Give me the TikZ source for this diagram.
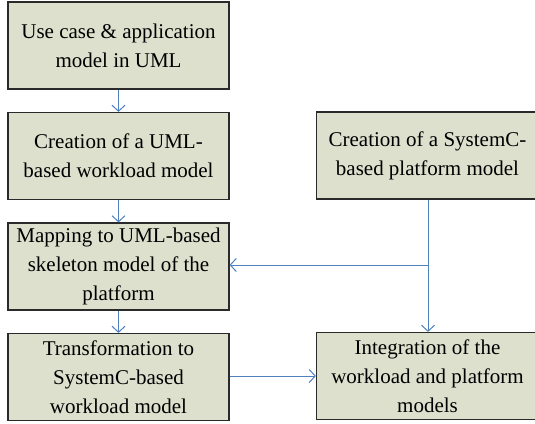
\documentclass[tikz,border=0pt]{standalone}
\usepackage{fontspec}
\setmainfont{Liberation Serif}
\usetikzlibrary{arrows.meta}
\definecolor{boxfill}{HTML}{DDE0CD}
\definecolor{boxline}{HTML}{2A2A2A}
\definecolor{flow}{HTML}{4F81BD}
\tikzset{
  stepbox/.style={draw=boxline, line width=1.2bp, fill=boxfill, align=center,
    inner sep=0pt, font=\fontsize{21bp}{29bp}\selectfont},
  leftbox/.style={stepbox, minimum width=221bp, minimum height=87bp},
  rightbox/.style={stepbox, minimum width=222bp, minimum height=87bp},
  flowline/.style={draw=flow, line width=1bp, -{Straight Barb[length=6bp,width=13bp,line width=1bp]}},
}
\begin{document}
\begin{tikzpicture}[x=1bp,y=-1bp]
  \useasboundingbox (0,0) rectangle (535,423);
  \node[leftbox] (uc) at (118.5,45.5) {Use case \& application\\model in UML};
  \node[leftbox] (wl) at (118.5,156) {Creation of a UML-\\based workload model};
  \node[leftbox] (map) at (118.5,266.5) {Mapping to UML-based\\skeleton model of the\\platform};
  \node[leftbox] (tr) at (118.5,377) {Transformation to\\SystemC-based\\workload model};
  \node[rightbox] (pf) at (427.5,155.5) {Creation of a SystemC-\\based platform model};
  \node[rightbox] (int) at (427.5,376) {Integration of the\\workload and platform\\models};
  \coordinate (split) at (428,265);
  \draw[flowline] (uc) -- (wl);
  \draw[flowline] (wl) -- (map);
  \draw[flowline] (map) -- (tr);
  \draw[flowline] (tr.east |- 0,376) -- (int.west |- 0,376);
  \draw[draw=flow, line width=1bp] (pf.south -| split) -- (split);
  \draw[flowline] (split) -- (map.east |- split);
  \draw[flowline] (split) -- (int.north -| split);
\end{tikzpicture}
\end{document}
